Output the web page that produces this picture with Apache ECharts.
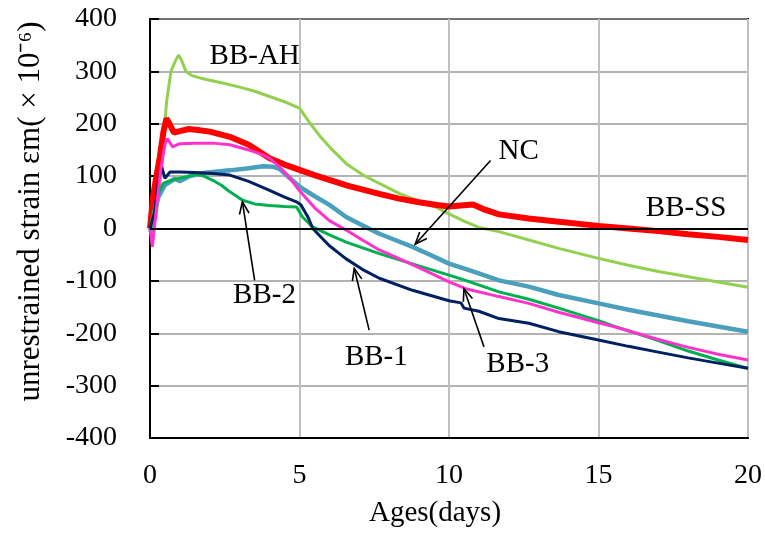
<!DOCTYPE html>
<html>
<head>
<meta charset="utf-8">
<script src="https://cdn.jsdelivr.net/npm/echarts@6/dist/echarts.min.js"></script>
<style>
  html, body { margin: 0; padding: 0; background: #fff; }
  #main { width: 765px; height: 536px; }
</style>
</head>
<body>
<div id="main"></div>
<script>
// [age (days), strain (x10^-6)]
var BB_AH = [[0,0],[0.2,20],[0.4,120],[0.55,240],[0.7,300],[0.85,320],[0.95,331],[1.05,322],[1.2,300],[1.4,292],[1.7,287],[2,283],[2.5,277],[3,270],[3.5,262],[4,252],[4.5,242],[5,230],[5.3,205],[5.7,175],[6.1,150],[6.6,122],[7.1,103],[7.67,86],[8.33,67],[9,52],[9.6,40],[10,28],[10.5,14],[11,2],[11.67,-6],[12.67,-22],[13.67,-38],[15,-57],[16,-70],[17,-82],[18,-92],[19,-102],[20,-112]];
var BB_SS = [[0,0],[0.1,60],[0.2,95],[0.33,137],[0.45,185],[0.55,210],[0.65,200],[0.8,183],[1,186],[1.3,190],[1.6,188],[2,185],[2.67,175],[3.3,160],[4,134],[4.5,122],[5,112],[5.5,102],[6,93],[6.6,82],[7.67,66],[8.33,57],[9,50],[9.6,45],[10,42],[10.4,44],[10.8,46],[11.2,36],[11.67,27],[12.67,19],[13.67,13],[15,5],[16,0],[17,-5],[18,-11],[19,-16],[20,-22]];
var NC = [[0,0],[0.06,-9],[0.15,30],[0.28,60],[0.5,83],[0.83,95],[1,90],[1.33,100],[1.78,106],[2.67,111],[3.3,115],[3.78,119],[4.1,118],[4.33,114],[4.7,95],[5,80],[5.44,64],[6,45],[6.56,22],[7.1,6],[7.67,-10],[8.2,-22],[8.78,-35],[9.4,-51],[10,-67],[10.8,-82],[11.67,-99],[12.67,-111],[13.67,-127],[15,-143],[16,-155],[17,-166],[18,-177],[19,-187],[20,-197]];
var BB_2 = [[0,0],[0.15,40],[0.3,70],[0.44,86],[0.7,92],[1,96],[1.3,100],[1.6,103],[1.8,100],[2.1,92],[2.4,82],[2.67,70],[3.1,54],[3.5,47],[4,44],[4.5,42],[4.9,41],[5.1,22],[5.44,3],[6,-12],[6.56,-26],[7.67,-48],[8.8,-68],[10,-89],[10.5,-98],[11.67,-121],[12.67,-135],[13.67,-152],[15,-176],[15.5,-186],[17,-214],[18,-234],[19,-251],[20,-267]];
var BB_1 = [[0,0],[0.15,30],[0.3,95],[0.39,118],[0.5,96],[0.67,108],[1,108],[1.5,107],[2.1,105],[2.67,102],[3.3,90],[4,73],[4.5,60],[4.9,51],[5.05,45],[5.3,20],[5.44,0],[6,-33],[6.56,-58],[7.1,-78],[7.67,-95],[8.78,-118],[10,-138],[10.4,-142],[10.5,-152],[11,-158],[11.67,-172],[12.67,-181],[13.67,-197],[15,-213],[16,-225],[17,-236],[18,-247],[19,-257],[20,-267]];
var BB_3 = [[0,0],[0.08,-35],[0.2,30],[0.35,110],[0.5,160],[0.58,172],[0.75,156],[1,162],[1.5,163],[2.1,163],[2.67,160],[3.3,150],[3.8,140],[4,134],[4.33,118],[4.7,95],[5,72],[5.5,40],[6,15],[6.56,-3],[7.1,-22],[7.67,-41],[8.5,-62],[9.3,-83],[10,-102],[10.56,-115],[11.67,-130],[12.67,-143],[13.67,-160],[15,-180],[15.5,-187],[17,-212],[18,-227],[19,-240],[20,-251]];

var xTicks = { min: 0, max: 20, interval: 5 };
var yTicks = { min: -400, max: 400, interval: 100 };

// annotation text and arrows, in data coordinates
var labelText = ['BB-AH', 'NC', 'BB-SS', 'BB-2', 'BB-1', 'BB-3'];
var labelAt = [[3.5, 329], [12.33, 147], [17.93, 39], [3.83, -127], [7.57, -246], [12.3, -259]];
var arrowFrom = [[3.5, -99], [11.39, 130], [7.33, -194], [11.17, -226]];
var arrowTo = [[3.09, 51], [8.87, -30], [6.83, -76], [10.5, -115]];

var FONT = "'Liberation Serif', 'Times New Roman', serif";

var myChart = echarts.init(document.getElementById('main'));

function line(name, data, color, width) {
    return {
        name: name,
        type: 'line',
        data: data,
        showSymbol: false,
        symbol: 'none',
        lineStyle: { color: color, width: width },
        itemStyle: { color: color },
        animation: false
    };
}

var series = [
    line('BB-AH', BB_AH, '#92d050', 3),
    line('BB-SS', BB_SS, '#ff0000', 6),
    line('NC', NC, '#4a9fbc', 4.5),
    line('BB-2', BB_2, '#00b050', 3),
    line('BB-1', BB_1, '#002060', 3),
    line('BB-3', BB_3, '#ff33cc', 3)
];
// black zero line
series[0].markLine = {
    silent: true,
    symbol: ['none', 'none'],
    label: { show: false },
    lineStyle: { color: '#000', width: 2, type: 'solid' },
    data: [{ yAxis: 0 }],
    animation: false
};

var option = {
    animation: false,
    grid: {
        left: 150, right: 15, top: 19, bottom: 98,
        show: true, borderColor: '#000', borderWidth: 2
    },
    xAxis: {
        type: 'value',
        min: xTicks.min, max: xTicks.max, interval: xTicks.interval,
        name: 'Ages(days)',
        nameLocation: 'middle',
        nameGap: 61,
        nameTextStyle: { fontFamily: FONT, fontSize: 29, color: '#000', padding: [0, 28, 0, 0] },
        axisLine: { onZero: false, lineStyle: { color: '#000', width: 2 } },
        axisTick: { show: false },
        axisLabel: { fontFamily: FONT, fontSize: 28, color: '#000', margin: 24 },
        splitLine: { show: true, lineStyle: { color: '#c0c0c0', width: 2 } }
    },
    yAxis: {
        type: 'value',
        min: yTicks.min, max: yTicks.max, interval: yTicks.interval,
        name: 'unrestrained strain εm( × 10⁻⁶)',
        nameLocation: 'middle',
        nameGap: 104,
        nameTextStyle: { fontFamily: FONT, fontSize: 31, color: '#000', padding: [0, 0, 0, 34] },
        axisLine: { lineStyle: { color: '#000', width: 2 } },
        axisTick: { show: true, inside: true, length: 9, lineStyle: { color: '#000', width: 2 } },
        axisLabel: { fontFamily: FONT, fontSize: 28, color: '#000', margin: 33 },
        splitLine: { show: true, lineStyle: { color: '#9a9a9a', width: 1.5 } }
    },
    series: series
};

myChart.setOption(option);

// labels and arrows placed through the chart's own coordinate system
var graphics = [];
labelText.forEach(function (t, i) {
    var p = myChart.convertToPixel({ gridIndex: 0 }, labelAt[i]);
    graphics.push({
        type: 'text', x: p[0], y: p[1], z: 100,
        style: { text: t, font: '29px ' + FONT, fill: '#000', align: 'center', verticalAlign: 'middle' }
    });
});
arrowFrom.forEach(function (a, i) {
    var p0 = myChart.convertToPixel({ gridIndex: 0 }, a);
    var p1 = myChart.convertToPixel({ gridIndex: 0 }, arrowTo[i]);
    var ang = Math.atan2(p0[1] - p1[1], p0[0] - p1[0]);
    var L = 13, spread = 0.38;
    var h1 = [p1[0] + L * Math.cos(ang + spread), p1[1] + L * Math.sin(ang + spread)];
    var h2 = [p1[0] + L * Math.cos(ang - spread), p1[1] + L * Math.sin(ang - spread)];
    graphics.push({
        type: 'polyline', z: 100,
        shape: { points: [p0, p1] },
        style: { stroke: '#000', lineWidth: 1.6, fill: null }
    });
    graphics.push({
        type: 'polyline', z: 100,
        shape: { points: [h1, p1, h2] },
        style: { stroke: '#000', lineWidth: 1.6, fill: null }
    });
});
myChart.setOption({ graphic: graphics });
</script>
</body>
</html>
